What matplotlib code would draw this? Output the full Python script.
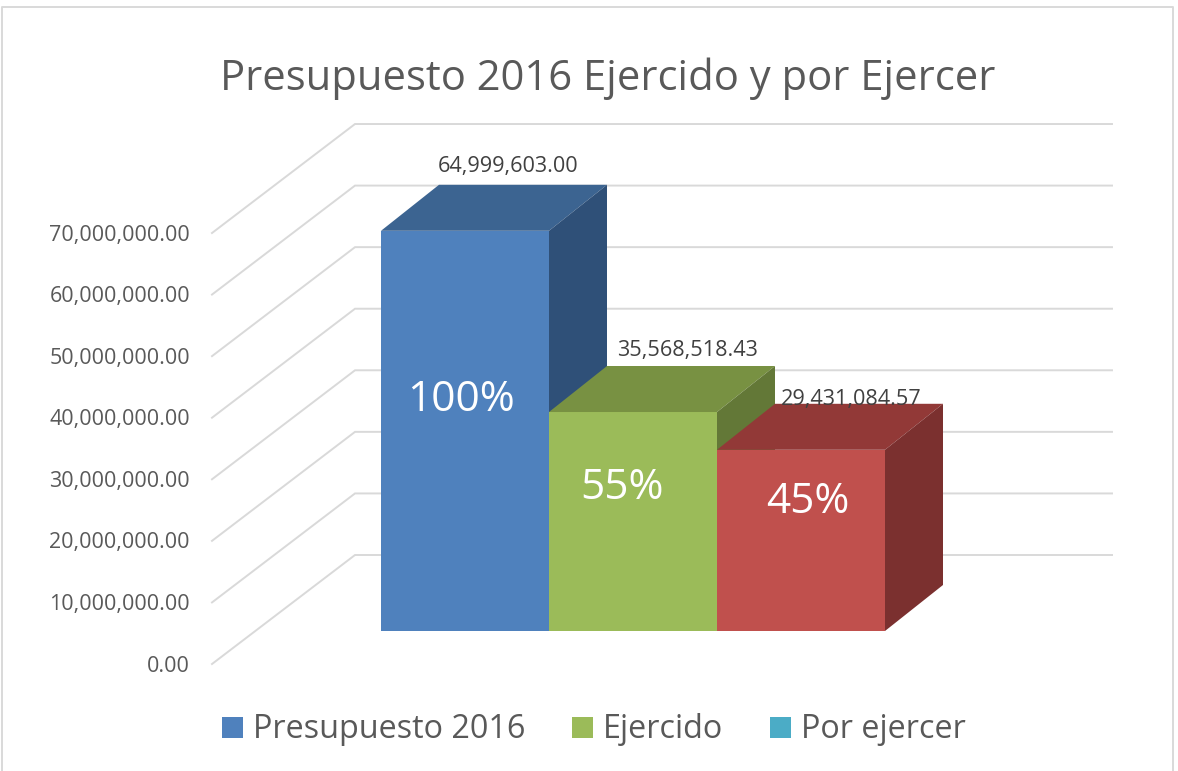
import matplotlib
matplotlib.use('Agg')
import matplotlib.pyplot as plt
import matplotlib.transforms as mtransforms
from matplotlib.patches import Rectangle

plt.rcParams['font.family'] = ['Open Sans', 'DejaVu Sans']

# data
categories = ['Presupuesto 2016', 'Ejercido', 'Por ejercer']
values = [64999603.00, 35568518.43, 29431084.57]
percents = ['100%', '55%', '45%']
ticks = [0, 10000000, 20000000, 30000000, 40000000, 50000000, 60000000, 70000000]

# style
TEXT = '#595959'
GRID = '#D9D9D9'
FRONT = ['#4F81BD', '#9BBB59', '#C0504D']
TOP = ['#3C6491', '#789142', '#923937']
SIDE = ['#2F5078', '#637837', '#7B302F']
LEGEND = ['#4F81BD', '#9BBB59', '#4BACC6']

W, H = 1178, 771
PX_X = 168.0                # px per category
PX_Y = 6.157e-6             # px per unit of value
X0, Y0 = 465.0, 631.0       # pixel of first category centre / bar base

fig = plt.figure(figsize=(W / 100, H / 100), dpi=100, facecolor='white')
ax = fig.add_axes([0, 0, 1, 1])
ax.set_xlim((0 - X0) / PX_X, (W - X0) / PX_X)
ax.set_ylim((Y0 - H) / PX_Y, Y0 / PX_Y)
ax.axis('off')

# pixel coordinates, y going down
px = mtransforms.Affine2D().scale(1 / W, -1 / H).translate(0, 1) + fig.transFigure

# chart frame
ax.plot([1.5, 1.5, 1173, 1173], [771, 7, 7, 771], color=GRID, lw=1.4, transform=px,
        clip_on=False, zorder=1)

# walls: left wall slants from the front edge to the back wall
wall_x = [(212 - X0) / PX_X, (355 - X0) / PX_X, (1112 - X0) / PX_X]
wall_front = (Y0 - 664) / PX_Y
wall_back = (Y0 - 555) / PX_Y
for t in ticks:
    ax.plot(wall_x, [t + wall_front, t + wall_back, t + wall_back], color=GRID, lw=1.4,
            solid_joinstyle='miter', zorder=2)
    ax.text(190, 664 - t * PX_Y + 2, f'{t:,.2f}', transform=px, ha='right', va='center',
            fontsize=15.5, color=TEXT)

# bars
DX = 58 / PX_X
DY = 46 / PX_Y
label_off = [(43, 64), (54, 62), (50, 50)]
pct_off = [(-4, -231), (-11, -143), (7, -129)]
for i, v in enumerate(values):
    l, r = i - 0.5, i + 0.5
    ax.bar(i, v, width=1.0, color=FRONT[i], zorder=3 + i, linewidth=0)
    ax.fill([l, r, r + DX, l + DX], [v, v, v + DY, v + DY], color=TOP[i], lw=0, zorder=3 + i)
    ax.fill([r, r + DX, r + DX, r], [0, DY, v + DY, v], color=SIDE[i], lw=0, zorder=3 + i)
    ax.annotate(f'{v:,.2f}', xy=(i, v), xytext=(label_off[i][0] * 0.72, label_off[i][1] * 0.72),
                textcoords='offset points', ha='center', va='center', fontsize=15.6,
                color='#404040', zorder=10)
    ax.annotate(percents[i], xy=(i, 0), xytext=(pct_off[i][0] * 0.72, -pct_off[i][1] * 0.72),
                textcoords='offset points', ha='center', va='center', fontsize=30.5,
                color='white', zorder=10)

# title
ax.text(608, 79, 'Presupuesto 2016 Ejercido y por Ejercer', transform=px, ha='center',
        va='center', fontsize=30.1, color=TEXT)

# legend
swatch_x = [222, 572, 770]
for x, name, c in zip(swatch_x, categories, LEGEND):
    ax.add_patch(Rectangle((x, 717), 21, 21, transform=px, facecolor=c, edgecolor='none',
                           clip_on=False, zorder=5))
    ax.text(x + 31, 729, name, transform=px, ha='left', va='center', fontsize=23.3, color=TEXT)

fig.savefig('out.png', dpi=100, facecolor='white')
